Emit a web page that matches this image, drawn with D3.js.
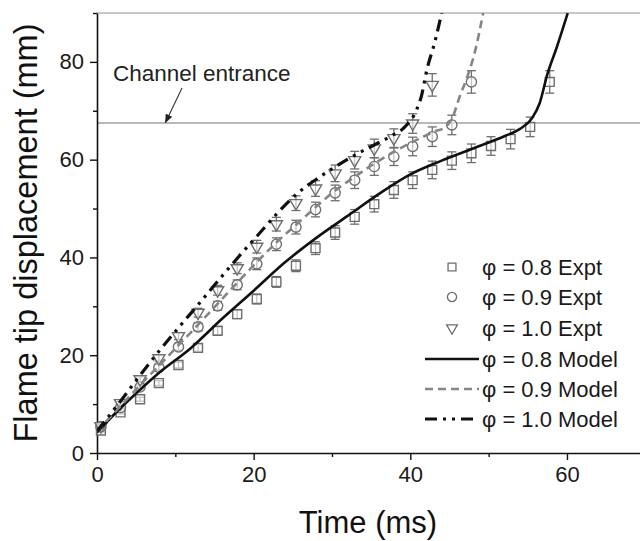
<!DOCTYPE html>
<html>
<head>
<meta charset="utf-8">
<script src="https://cdn.jsdelivr.net/npm/d3@7"></script>
<style>
  html, body { margin: 0; padding: 0; background: #fff; }
  svg { display: block; font-family: "Liberation Sans", Arial, sans-serif; }
</style>
</head>
<body>
<svg id="chart" width="640" height="541"></svg>
<script>
// Sampling times of the high-speed images (ms)
const expTime = [0.5, 3.0, 5.5, 7.9, 10.4, 12.9, 15.4, 17.9, 20.4, 22.9, 25.4, 27.9,
                 30.4, 32.9, 35.4, 37.9, 40.3, 42.8, 45.3, 47.8, 50.3, 52.8, 55.3, 57.8];

// Measured flame tip displacement (mm) and its uncertainty
const expt08 = [4.6, 8.3, 11.0, 14.3, 18.0, 21.5, 25.0, 28.4, 31.5, 35.0, 38.3, 41.9,
                45.1, 48.3, 50.9, 53.8, 55.8, 57.9, 59.8, 61.3, 62.8, 64.2, 66.7, 75.9];
const err08  = [0.3, 0.3, 0.4, 0.5, 0.6, 0.7, 0.8, 0.9, 1.0, 1.1, 1.2, 1.3,
                1.4, 1.5, 1.6, 1.7, 1.7, 1.8, 1.8, 1.9, 1.9, 2.0, 2.0, 2.3];

const expt09 = [5.4, 9.3, 13.5, 17.5, 21.7, 25.8, 30.1, 34.4, 38.7, 42.7, 46.2, 49.8,
                53.2, 55.8, 58.6, 60.6, 62.7, 64.7, 67.1, 75.9];
const err09  = [0.3, 0.3, 0.4, 0.6, 0.7, 0.8, 0.9, 1.0, 1.2, 1.3, 1.4, 1.5,
                1.6, 1.7, 1.8, 1.8, 1.9, 2.0, 2.0, 2.3];

const expt10 = [5.5, 10.2, 15.1, 19.4, 23.9, 28.7, 33.3, 37.8, 42.2, 46.8, 51.1, 54.1,
                57.2, 59.9, 62.3, 64.4, 67.4, 75.3];
const err10  = [0.3, 0.3, 0.5, 0.6, 0.7, 0.9, 1.0, 1.1, 1.3, 1.4, 1.5, 1.6,
                1.7, 1.8, 1.9, 1.9, 2.0, 2.3];

// Model predictions
const model08Time = [0, 3, 5, 8, 12, 16, 20, 24, 28, 32, 36, 40, 44, 48, 52, 54, 55.5, 56.5, 57.5, 58.7, 60.1];
const model08     = [4.2, 9.2, 12.2, 16.5, 21.5, 27.5, 33.2, 39.0, 44.0, 48.5, 53.0, 57.0, 59.8, 62.3, 64.8, 66.3, 68.4, 71.5, 77.5, 83.0, 90.0];

const model09Time = [0, 3, 5.5, 8, 10.5, 13, 15.5, 18, 20.5, 23, 25.5, 28, 30.5, 33, 35.5, 38, 40.5, 43, 44.6, 45.5, 46.3, 47.2, 48.3, 49.3];
const model09     = [4.5, 9.6, 13.9, 18.0, 22.2, 26.4, 30.7, 35.0, 39.2, 43.2, 46.8, 50.4, 53.8, 56.6, 59.3, 61.7, 63.8, 65.7, 66.8, 69.1, 72.9, 76.6, 82.4, 90.0];

const model10Time = [0, 3, 5.5, 8, 10.5, 13, 15.5, 18, 20.5, 23, 25.5, 28, 30.5, 33, 35.5, 37.5, 39.3, 40.8, 41.4, 42.1, 43.2, 44.0];
const model10     = [4.5, 10.6, 15.9, 21.0, 25.8, 30.5, 35.3, 40.0, 44.5, 49.0, 53.0, 56.0, 58.6, 61.0, 63.1, 64.8, 66.7, 70.2, 72.9, 78.3, 84.5, 90.0];

const channelEntrance = 67.5;

const xTicks = [0, 20, 40, 60];
const xMinor = [10, 30, 50];
const yTicks = [0, 20, 40, 60, 80];
const yMinor = [10, 30, 50, 70, 90];

const legendLabels = ["\u03C6 = 0.8 Expt", "\u03C6 = 0.9 Expt", "\u03C6 = 1.0 Expt",
                      "\u03C6 = 0.8 Model", "\u03C6 = 0.9 Model", "\u03C6 = 1.0 Model"];

const svg = d3.select("#chart");
const x = d3.scaleLinear().domain([0, 70]).range([97, 645.3]);
const y = d3.scaleLinear().domain([0, 90]).range([453, 13]);

svg.append("defs").append("clipPath").attr("id", "plot-clip")
  .append("rect").attr("x", 97).attr("y", y(90)).attr("width", 560).attr("height", y(0) - y(90));

// top frame line and channel entrance reference
svg.append("line").attr("x1", 97).attr("x2", 640).attr("y1", y(90)).attr("y2", y(90))
  .attr("stroke", "#b4b4b4").attr("stroke-width", 1.6);
svg.append("line").attr("x1", 97).attr("x2", 640)
  .attr("y1", y(channelEntrance)).attr("y2", y(channelEntrance))
  .attr("stroke", "#a0a0a0").attr("stroke-width", 1.4);

// axes
const tickFont = g => g.selectAll("text").attr("font-size", 22).attr("fill", "#1a1a1a")
  .attr("font-family", "'Liberation Sans', Arial, sans-serif");

svg.append("g").attr("transform", `translate(0,${y(0)})`)
  .call(d3.axisBottom(x).tickValues(xTicks).tickSize(7).tickSizeOuter(0).tickPadding(6).tickFormat(d3.format("d")))
  .call(tickFont);
svg.append("g").attr("transform", `translate(0,${y(0)})`)
  .call(d3.axisBottom(x).tickValues(xMinor).tickSize(4).tickFormat(""))
  .call(g => g.select(".domain").remove());

svg.append("g").attr("transform", `translate(${x(0)},0)`)
  .call(d3.axisLeft(y).tickValues(yTicks).tickSize(7).tickSizeOuter(0).tickPadding(6).tickFormat(d3.format("d")))
  .call(tickFont);
svg.append("g").attr("transform", `translate(${x(0)},0)`)
  .call(d3.axisLeft(y).tickValues(yMinor).tickSize(4).tickFormat(""))
  .call(g => g.select(".domain").remove());

svg.selectAll(".domain").attr("stroke", "#111").attr("stroke-width", 1.6);
svg.selectAll(".tick line").attr("stroke", "#111").attr("stroke-width", 1.4);

// axis titles
svg.append("text").attr("x", 368).attr("y", 533).attr("text-anchor", "middle")
  .attr("font-size", 31).attr("fill", "#111").text("Time (ms)");
svg.append("text").attr("transform", "translate(37,233) rotate(-90)").attr("text-anchor", "middle")
  .attr("font-size", 32.5).attr("fill", "#111").text("Flame tip displacement (mm)");

// experimental markers with error bars
const markerColor = "#6e6e6e";
const symSquare = d3.symbol().type(d3.symbolSquare).size(80);
const symCircle = d3.symbol().type(d3.symbolCircle).size(82);
const symTri = d3.symbol().type(d3.symbolTriangle).size(64);

function drawExpt(vals, errs, sym, rotate) {
  const g = svg.append("g");
  const pts = vals.map((v, i) => ({ t: expTime[i], v, e: errs[i] }));
  const eb = g.selectAll(".eb").data(pts).enter().append("g")
    .attr("stroke", markerColor).attr("stroke-width", 1.3);
  eb.append("line").attr("x1", d => x(d.t)).attr("x2", d => x(d.t))
    .attr("y1", d => y(d.v + d.e)).attr("y2", d => y(d.v - d.e));
  eb.append("line").attr("x1", d => x(d.t) - 4.5).attr("x2", d => x(d.t) + 4.5)
    .attr("y1", d => y(d.v + d.e)).attr("y2", d => y(d.v + d.e));
  eb.append("line").attr("x1", d => x(d.t) - 4.5).attr("x2", d => x(d.t) + 4.5)
    .attr("y1", d => y(d.v - d.e)).attr("y2", d => y(d.v - d.e));
  g.selectAll(".m").data(pts).enter().append("path")
    .attr("d", sym)
    .attr("transform", d => `translate(${x(d.t)},${y(d.v)})` + (rotate ? " rotate(180)" : ""))
    .attr("fill", "#fff").attr("fill-opacity", 0.6)
    .attr("stroke", markerColor).attr("stroke-width", 1.4);
}
drawExpt(expt08, err08, symSquare, false);
drawExpt(expt09, err09, symCircle, false);
drawExpt(expt10, err10, symTri, true);

// model curves
const lineGen = d3.line().x(d => x(d[0])).y(d => y(d[1])).curve(d3.curveMonotoneX);
const plot = svg.append("g").attr("clip-path", "url(#plot-clip)");
const modelStyles = [
  { color: "#111", width: 2.6, dash: null },
  { color: "#858585", width: 2.6, dash: "8,5" },
  { color: "#111", width: 3.2, dash: "12,6,3,6,3,6" }
];
const modelSets = [
  d3.zip(model08Time, model08),
  d3.zip(model09Time, model09),
  d3.zip(model10Time, model10)
];
modelSets.forEach((pts, i) => {
  const s = modelStyles[i];
  plot.append("path").attr("d", lineGen(pts)).attr("fill", "none")
    .attr("stroke", s.color).attr("stroke-width", s.width)
    .attr("stroke-dasharray", s.dash);
});

// channel entrance annotation
svg.append("defs").append("marker").attr("id", "arrow").attr("viewBox", "0 0 10 10")
  .attr("refX", 9).attr("refY", 5).attr("markerWidth", 9).attr("markerHeight", 9)
  .attr("orient", "auto").attr("markerUnits", "userSpaceOnUse")
  .append("path").attr("d", "M0,1 L10,5 L0,9 Z").attr("fill", "#222");
svg.append("line").attr("x1", 182).attr("y1", 88).attr("x2", 165.5).attr("y2", y(channelEntrance) - 0.5)
  .attr("stroke", "#333").attr("stroke-width", 1.1).attr("marker-end", "url(#arrow)");
svg.append("text").attr("x", 113).attr("y", 81).attr("font-size", 22.5).attr("fill", "#222")
  .text("Channel entrance");

// legend
const legend = svg.append("g");
const rowY = [267, 297, 328, 359, 389, 419];
const legSyms = [
  { sym: d3.symbol().type(d3.symbolSquare).size(62), rot: false },
  { sym: d3.symbol().type(d3.symbolCircle).size(66), rot: false },
  { sym: d3.symbol().type(d3.symbolTriangle).size(50), rot: true }
];
legSyms.forEach((s, i) => {
  legend.append("path").attr("d", s.sym)
    .attr("transform", `translate(452,${rowY[i]})` + (s.rot ? " rotate(180)" : ""))
    .attr("fill", "none").attr("stroke", markerColor).attr("stroke-width", 1.3);
});
modelStyles.forEach((s, i) => {
  legend.append("line").attr("x1", 425).attr("x2", 479)
    .attr("y1", rowY[i + 3]).attr("y2", rowY[i + 3])
    .attr("stroke", s.color).attr("stroke-width", s.width).attr("stroke-dasharray", s.dash);
});
legendLabels.forEach((t, i) => {
  legend.append("text").attr("x", 482).attr("y", rowY[i] + 7.5)
    .attr("font-size", 22).attr("fill", "#1a1a1a").text(t);
});
</script>
</body>
</html>
